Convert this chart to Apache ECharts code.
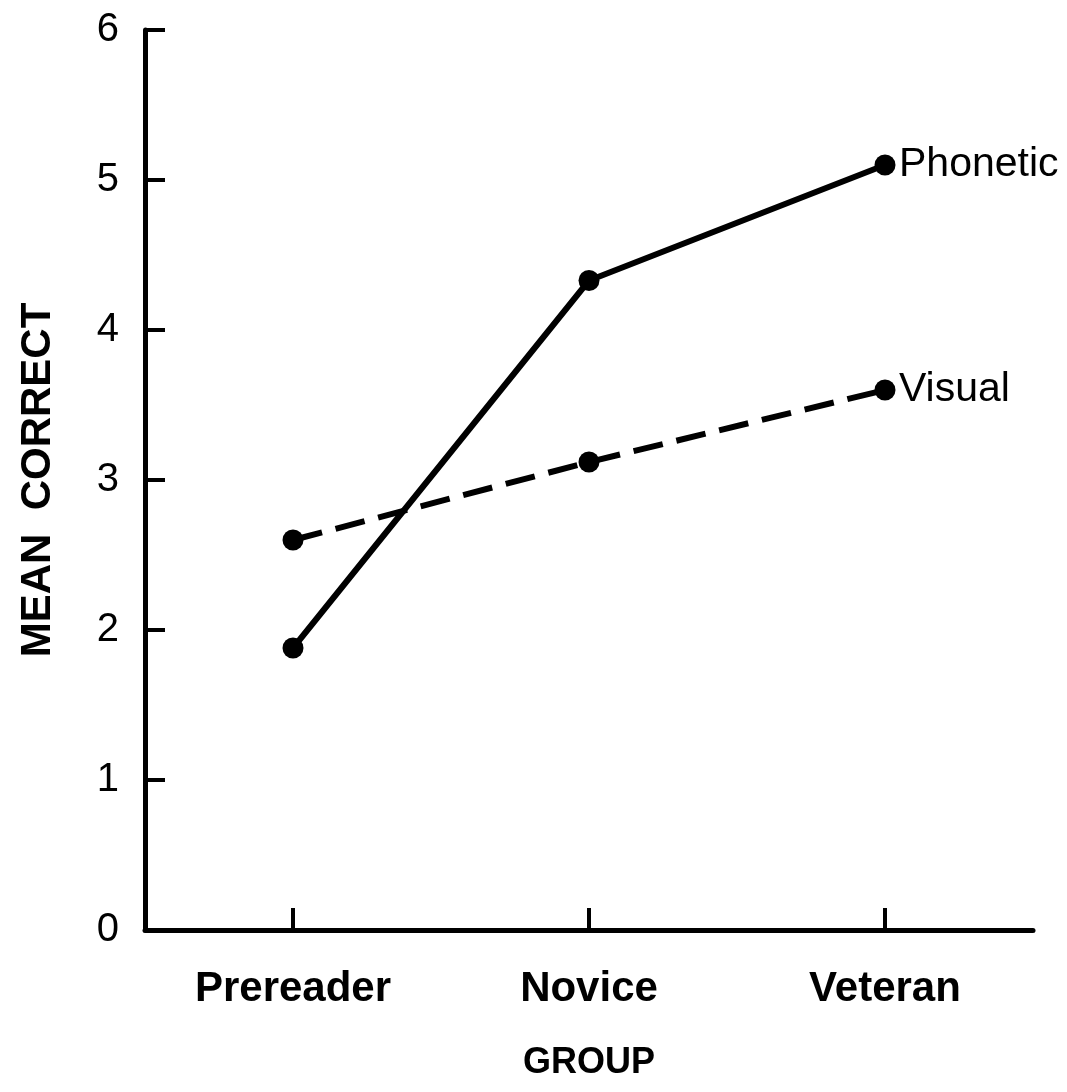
<!DOCTYPE html>
<html>
<head>
<meta charset="utf-8">
<script src="https://cdn.jsdelivr.net/npm/echarts@6/dist/echarts.min.js"></script>
<style>
html,body{margin:0;padding:0;background:#fff;}
#chart{width:1067px;height:1092px;}
</style>
</head>
<body>
<div id="chart"></div>
<script>
const categories = ['Prereader', 'Novice', 'Veteran'];
const phonetic = [1.88, 4.33, 5.1];
const visual = [2.6, 3.12, 3.6];
const yTicks = [0, 1, 2, 3, 4, 5, 6];

const chart = echarts.init(document.getElementById('chart'));
const font = 'Liberation Sans';
chart.setOption({
  backgroundColor: '#fff',
  animation: false,
  grid: { left: 145, right: 34, top: 30, bottom: 162 },
  xAxis: {
    type: 'category',
    data: categories,
    boundaryGap: true,
    name: 'GROUP',
    nameLocation: 'middle',
    nameGap: 115,
    nameTextStyle: { fontFamily: font, fontSize: 36, fontWeight: 'bold', color: '#000' },
    axisLine: { lineStyle: { color: '#000', width: 5 } },
    axisTick: { show: true, inside: true, alignWithLabel: true, length: 22, lineStyle: { color: '#000', width: 4 } },
    axisLabel: { fontFamily: font, fontSize: 42, fontWeight: 'bold', color: '#000', margin: 38 },
    splitLine: { show: false }
  },
  yAxis: {
    type: 'value',
    min: yTicks[0],
    max: yTicks[yTicks.length - 1],
    interval: 1,
    name: 'MEAN  CORRECT',
    nameLocation: 'middle',
    nameGap: 86,
    nameRotate: 90,
    nameTextStyle: { fontFamily: font, fontSize: 42, fontWeight: 'bold', color: '#000' },
    axisLine: { show: true, lineStyle: { color: '#000', width: 5 } },
    axisTick: { show: true, inside: true, length: 20, lineStyle: { color: '#000', width: 4 } },
    axisLabel: { fontFamily: font, fontSize: 40, color: '#000', margin: 26 },
    splitLine: { show: false }
  },
  series: [
    {
      name: 'Phonetic',
      type: 'line',
      data: phonetic,
      symbol: 'circle',
      symbolSize: 21,
      itemStyle: { color: '#000' },
      lineStyle: { color: '#000', width: 6 },
      endLabel: { show: true, formatter: '{a}', fontFamily: font, fontSize: 41, color: '#000', distance: 14 }
    },
    {
      name: 'Visual',
      type: 'line',
      data: visual,
      symbol: 'circle',
      symbolSize: 21,
      itemStyle: { color: '#000' },
      lineStyle: { color: '#000', width: 6, type: [30, 14] },
      endLabel: { show: true, formatter: '{a}', fontFamily: font, fontSize: 41, color: '#000', distance: 14 }
    }
  ]
});
</script>
</body>
</html>
